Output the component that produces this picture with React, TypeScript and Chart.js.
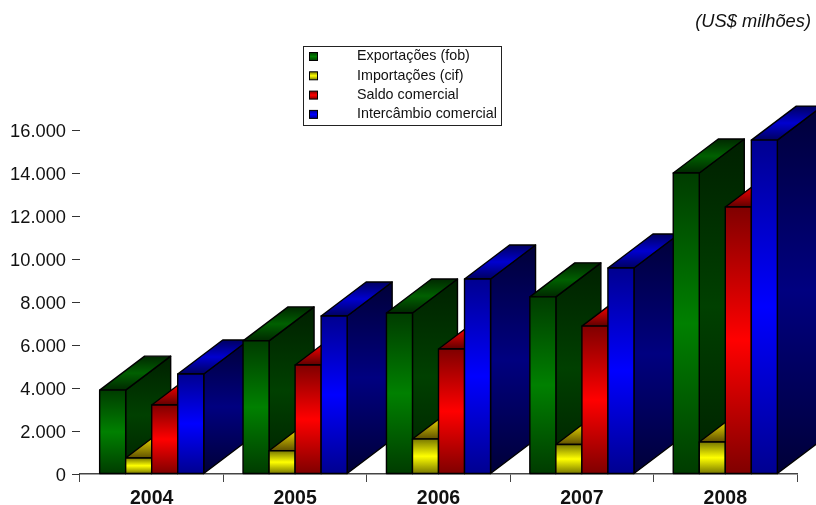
import React, { useEffect, useRef } from "react";
import { Chart, registerables } from "chart.js";

Chart.register(...registerables);

const years = ["2004", "2005", "2006", "2007", "2008"];
const exportacoes = [3900, 6190, 7490, 8240, 14000];
const importacoes = [745, 1080, 1630, 1370, 1490];
const saldo = [3210, 5070, 5815, 6880, 12420];
const intercambio = [4650, 7350, 9070, 9580, 15530];
const seriesNames = ["Exportações (fob)", "Importações (cif)", "Saldo comercial", "Intercâmbio comercial"];
const seriesValues = [exportacoes, importacoes, saldo, intercambio];

// [edge, middle] colours per series for each face
const frontColors = [["#003c00", "#008000"], ["#787800", "#ffff00"], ["#800000", "#ff0000"], ["#000090", "#0000ff"]];
const topColors = [["#002800", "#006000"], ["#605000", "#d0c000"], ["#600000", "#e00000"], ["#000060", "#0000d0"]];
const sideColors = [["#002000", "#004000"], ["#404000", "#808000"], ["#400000", "#800000"], ["#000038", "#000080"]];

const DEPTH_X = 45;
const DEPTH_Y = 34;

function grad(ctx: CanvasRenderingContext2D, y0: number, y1: number, c: string[]) {
  const g = ctx.createLinearGradient(0, y0, 0, y1);
  g.addColorStop(0, c[0]);
  g.addColorStop(0.5, c[1]);
  g.addColorStop(1, c[0]);
  return g;
}

function poly(ctx: CanvasRenderingContext2D, pts: number[][], fill: CanvasGradient) {
  ctx.beginPath();
  pts.forEach((p, i) => (i ? ctx.lineTo(p[0], p[1]) : ctx.moveTo(p[0], p[1])));
  ctx.closePath();
  ctx.fillStyle = fill;
  ctx.fill();
  ctx.stroke();
}

const bars3d = {
  id: "bars3d",
  afterDatasetsDraw(chart: any) {
    const ctx: CanvasRenderingContext2D = chart.ctx;
    ctx.save();
    ctx.strokeStyle = "#000";
    ctx.lineWidth = 1.4;
    ctx.lineJoin = "round";
    years.forEach((_, j) => {
      seriesValues.forEach((__, s) => {
        const el = chart.getDatasetMeta(s).data[j];
        const w = el.width;
        const l = el.x - w / 2;
        const r = el.x + w / 2;
        const t = el.y;
        const b = el.base;
        poly(ctx, [[r, t], [r + DEPTH_X, t - DEPTH_Y], [r + DEPTH_X, b - DEPTH_Y], [r, b]],
          grad(ctx, t - DEPTH_Y, b, sideColors[s]));
        poly(ctx, [[l, t], [l + DEPTH_X, t - DEPTH_Y], [r + DEPTH_X, t - DEPTH_Y], [r, t]],
          grad(ctx, t - DEPTH_Y, t, topColors[s]));
        poly(ctx, [[l, t], [r, t], [r, b], [l, b]], grad(ctx, t, b, frontColors[s]));
      });
    });
    ctx.restore();

    // Unit note
    ctx.save();
    ctx.fillStyle = "#111";
    ctx.font = "italic 18.3px 'Liberation Sans'";
    ctx.textAlign = "right";
    ctx.textBaseline = "middle";
    ctx.fillText("(US$ milhões)", 811, 22);

    // Legend
    ctx.fillStyle = "#fff";
    ctx.strokeStyle = "#222";
    ctx.lineWidth = 1;
    ctx.fillRect(303.5, 46.5, 198, 79);
    ctx.strokeRect(303.5, 46.5, 198, 79);
    ctx.font = "14.3px 'Liberation Sans'";
    ctx.textAlign = "left";
    seriesNames.forEach((name, s) => {
      const y = 56.5 + s * 19.3;
      ctx.strokeStyle = "#000";
      ctx.fillStyle = grad(ctx, y - 4, y + 4, frontColors[s]);
      ctx.fillRect(309.5, y - 4, 8, 8);
      ctx.strokeRect(309.5, y - 4, 8, 8);
      ctx.fillStyle = "#111";
      ctx.fillText(name, 357, y);
    });
    ctx.restore();
  },
};

export default function App() {
  const ref = useRef<HTMLCanvasElement>(null);
  useEffect(() => {
    const chart = new Chart(ref.current!, {
      type: "bar",
      data: {
        labels: years,
        datasets: seriesValues.map((data, s) => ({
          label: seriesNames[s],
          data,
          backgroundColor: "rgba(0,0,0,0)",
          borderWidth: 0,
          barPercentage: 1,
          categoryPercentage: 0.726,
        })),
      },
      options: {
        responsive: false,
        animation: false,
        devicePixelRatio: 1,
        layout: { padding: { top: 130, right: 19, left: 0, bottom: 0 } },
        plugins: { legend: { display: false }, title: { display: false }, tooltip: { enabled: false } },
        scales: {
          x: {
            afterFit: (s: any) => { s.height = 31; },
            border: { display: true, color: "#444", width: 1.5 },
            grid: { drawOnChartArea: false, drawTicks: true, tickLength: 8, color: "#444", offset: true },
            ticks: { color: "#111", font: { family: "'Liberation Sans'", size: 19.5, weight: "bold" }, padding: 5, maxRotation: 0 },
          },
          y: {
            min: 0,
            max: 16000,
            afterFit: (s: any) => {
              s.width = 80;
              if (!s.__shifted) {
                s.__shifted = true;
                const orig = s._computeLabelItems;
                s._computeLabelItems = (area: any) =>
                  orig.call(s, area).map((i: any) => ({ ...i, textOffset: i.textOffset + 1.5 }));
              }
            },
            border: { display: false },
            grid: { drawOnChartArea: false, drawTicks: true, tickLength: 8, color: "#333" },
            ticks: {
              stepSize: 2000,
              color: "#111",
              padding: 6,
              font: { family: "'Liberation Sans'", size: 18.3 },
              callback: (v: any) => String(v).replace(/\B(?=(\d{3})+$)/g, "."),
            },
          },
        },
      },
      plugins: [bars3d],
    } as any);
    return () => chart.destroy();
  }, []);
  return (
    <canvas
      ref={ref}
      width={816}
      height={505}
      style={{ position: "fixed", left: 0, top: 0, width: 816, height: 505, display: "block" }}
    />
  );
}
